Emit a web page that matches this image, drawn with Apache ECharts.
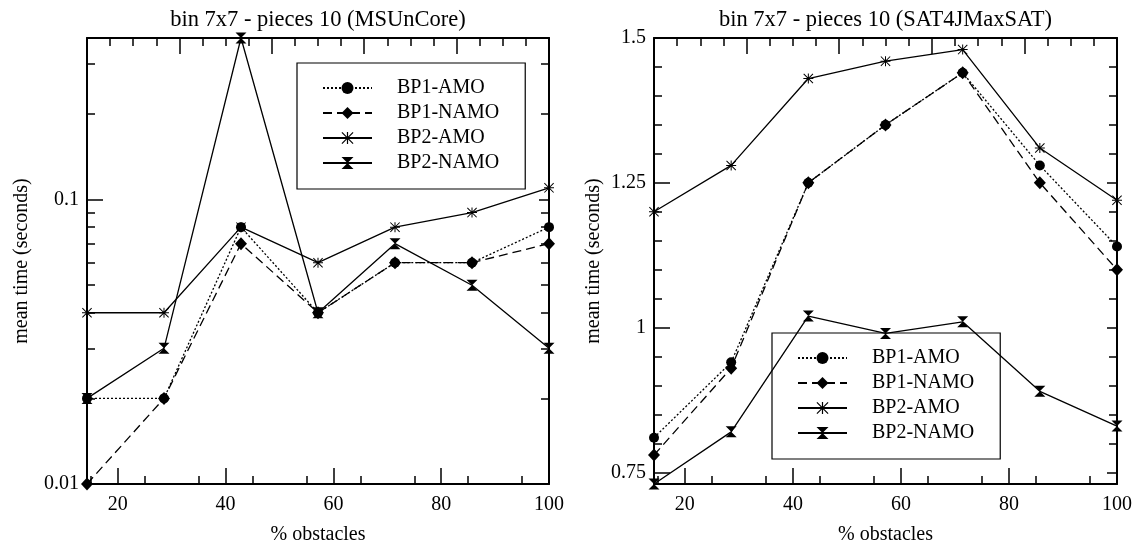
<!DOCTYPE html>
<html><head><meta charset="utf-8">
<script src="https://cdn.jsdelivr.net/npm/echarts@6/dist/echarts.min.js"></script>
<style>html,body{margin:0;padding:0;background:#fff}#c{width:1144px;height:550px}</style>
</head><body><div id="c"></div>
<script>
// ---------- data ----------
const xValues = [14.2857, 28.5714, 42.8571, 57.1429, 71.4286, 85.7143, 100];
const seriesNames = ['BP1-AMO', 'BP1-NAMO', 'BP2-AMO', 'BP2-NAMO'];

// left panel: MSUnCore (log scale)
const msuBP1AMO  = [0.02, 0.02, 0.08, 0.04, 0.06, 0.06, 0.08];
const msuBP1NAMO = [0.01, 0.02, 0.07, 0.04, 0.06, 0.06, 0.07];
const msuBP2AMO  = [0.04, 0.04, 0.08, 0.06, 0.08, 0.09, 0.11];
const msuBP2NAMO = [0.02, 0.03, 0.37, 0.04, 0.07, 0.05, 0.03];

// right panel: SAT4JMaxSAT (linear)
const satBP1AMO  = [0.81, 0.94, 1.25, 1.35, 1.44, 1.28, 1.14];
const satBP1NAMO = [0.78, 0.93, 1.25, 1.35, 1.44, 1.25, 1.10];
const satBP2AMO  = [1.20, 1.28, 1.43, 1.46, 1.48, 1.31, 1.22];
const satBP2NAMO = [0.73, 0.82, 1.02, 0.99, 1.01, 0.89, 0.83];

// tick labels
const xMajorTicks = [20, 40, 60, 80, 100];
const xMinorTicks = [15, 25, 35, 45, 55, 65, 75, 85, 95];
const leftYMajor = [0.01, 0.1];
const leftYMinor = [0.02, 0.03, 0.04, 0.05, 0.06, 0.07, 0.08, 0.09, 0.2, 0.3];
const rightYMajor = [0.75, 1, 1.25, 1.5];
const rightYMinor = [0.8, 0.85, 0.9, 0.95, 1.05, 1.1, 1.15, 1.2, 1.3, 1.35, 1.4, 1.45];

const titles = ['bin 7x7 - pieces 10 (MSUnCore)', 'bin 7x7 - pieces 10 (SAT4JMaxSAT)'];
const xName = '% obstacles';
const yName = 'mean time (seconds)';

// ---------- styling ----------
const FONT = 'Liberation Serif';
const BLACK = '#000';
const txt = (size) => ({ fontFamily: FONT, fontSize: size, color: BLACK, fontWeight: 'normal' });

const ASTERISK = 'path://M4.5,0 L5.5,0 L5.5,10 L4.5,10 Z M0,4.5 L10,4.5 L10,5.5 L0,5.5 Z M0.7,0 L10,9.3 L9.3,10 L0,0.7 Z M9.3,0 L10,0.7 L0.7,10 L0,9.3 Z';
const HOURGLASS = 'path://M0,0 L10,0 L5,5 L10,10 L0,10 L5,5 Z';

const styles = {
  'BP1-AMO':  { symbol: 'circle', symbolSize: 10, type: [2, 2] },
  'BP1-NAMO': { symbol: 'diamond', symbolSize: [12, 13], type: [9, 5] },
  'BP2-AMO':  { symbol: ASTERISK, symbolSize: 10, type: 'solid' },
  'BP2-NAMO': { symbol: HOURGLASS, symbolSize: [11, 11], type: 'solid' }
};

const grids = [
  { left: 87, top: 38, width: 462, height: 446 },
  { left: 654, top: 38, width: 463, height: 446 }
];

const xMin = xValues[0];
const xMax = 100;

function xAxesFor(g) {
  return [
    { gridIndex: g, type: 'value', position: 'bottom', min: xMin, max: xMax,
      name: xName, nameLocation: 'middle', nameGap: 41, nameTextStyle: txt(20),
      axisLine: { show: true, onZero: false, lineStyle: { color: BLACK, width: 2 } },
      axisTick: { show: true, inside: true, length: 16, customValues: xMajorTicks, lineStyle: { color: BLACK, width: 1.5 } },
      axisLabel: { show: true, customValues: xMajorTicks, margin: 11, ...txt(20) },
      splitLine: { show: false } },
    { gridIndex: g, type: 'value', position: 'bottom', min: xMin, max: xMax,
      axisLine: { show: false, onZero: false },
      axisTick: { show: true, inside: true, length: 8, customValues: xMinorTicks, lineStyle: { color: BLACK, width: 1.5 } },
      axisLabel: { show: false }, splitLine: { show: false } },
    { gridIndex: g, type: 'value', position: 'top', min: 0, max: 100, interval: 20,
      axisLine: { show: true, onZero: false, lineStyle: { color: BLACK, width: 2 } },
      axisTick: { show: true, inside: true, length: 16, lineStyle: { color: BLACK, width: 1.5 } },
      minorTick: { show: true, splitNumber: 4, length: 8, lineStyle: { color: BLACK, width: 1.5 } },
      axisLabel: { show: false }, splitLine: { show: false }, minorSplitLine: { show: false } }
  ];
}

function yAxesFor(g, type, min, max, major, minor, nameGap) {
  const base = { gridIndex: g, type: type, min: min, max: max, splitLine: { show: false } };
  if (type === 'log') base.logBase = 10;
  return [
    { ...base, position: 'left', name: yName, nameLocation: 'middle', nameGap: nameGap, nameTextStyle: txt(20),
      axisLine: { show: true, onZero: false, lineStyle: { color: BLACK, width: 2 } },
      axisTick: { show: true, inside: true, length: 16, customValues: major, lineStyle: { color: BLACK, width: 1.5 } },
      axisLabel: { show: true, customValues: major, margin: 8, ...txt(20) } },
    { ...base, position: 'left',
      axisLine: { show: false, onZero: false },
      axisTick: { show: true, inside: true, length: 8, customValues: minor, lineStyle: { color: BLACK, width: 1.5 } },
      axisLabel: { show: false } },
    { ...base, position: 'right',
      axisLine: { show: true, onZero: false, lineStyle: { color: BLACK, width: 2 } },
      axisTick: { show: true, inside: true, length: 10, customValues: major, lineStyle: { color: BLACK, width: 1.5 } },
      axisLabel: { show: false } },
    { ...base, position: 'right',
      axisLine: { show: false, onZero: false },
      axisTick: { show: true, inside: true, length: 8, customValues: minor, lineStyle: { color: BLACK, width: 1.5 } },
      axisLabel: { show: false } }
  ];
}

function makeSeries(name, vals, xIdx, yIdx) {
  const s = styles[name];
  return {
    name: name, type: 'line', xAxisIndex: xIdx, yAxisIndex: yIdx,
    data: xValues.map((x, i) => [x, vals[i]]),
    symbol: s.symbol, symbolSize: s.symbolSize, showSymbol: true,
    itemStyle: { color: BLACK, borderWidth: 0 },
    lineStyle: { color: BLACK, width: 1.3, type: s.type },
    emphasis: { disabled: true },
    animation: false
  };
}

const leftData = [msuBP1AMO, msuBP1NAMO, msuBP2AMO, msuBP2NAMO];
const rightData = [satBP1AMO, satBP1NAMO, satBP2AMO, satBP2NAMO];

const series = [];
seriesNames.forEach((n, i) => series.push(makeSeries(n, leftData[i], 0, 0)));
seriesNames.forEach((n, i) => series.push(makeSeries(n, rightData[i], 3, 4)));

function legendAt(left, top) {
  return {
    orient: 'vertical', left: left, top: top, align: 'left',
    padding: [15, 26, 16, 25], itemWidth: 49, itemHeight: 15, itemGap: 5,
    borderColor: BLACK, borderWidth: 1.2, backgroundColor: 'transparent',
    selectedMode: false, data: seriesNames,
    textStyle: { ...txt(20), lineHeight: 20, padding: [0, 0, 0, 20] }
  };
}

const option = {
  animation: false,
  backgroundColor: '#fff',
  title: [
    { text: titles[0], left: 318, top: 9, textAlign: 'center', padding: 0, textStyle: txt(22.5) },
    { text: titles[1], left: 885.5, top: 9, textAlign: 'center', padding: 0, textStyle: txt(22.5) }
  ],
  legend: [legendAt(297, 63), legendAt(772, 333)],
  grid: grids,
  xAxis: [...xAxesFor(0), ...xAxesFor(1)],
  yAxis: [
    ...yAxesFor(0, 'log', 0.01, 0.37, leftYMajor, leftYMinor, 55),
    ...yAxesFor(1, 'value', 0.73, 1.5, rightYMajor, rightYMinor, 50)
  ],
  series: series
};

const chart = echarts.init(document.getElementById('c'), null, { renderer: 'canvas' });
chart.setOption(option);
</script>
</body></html>
